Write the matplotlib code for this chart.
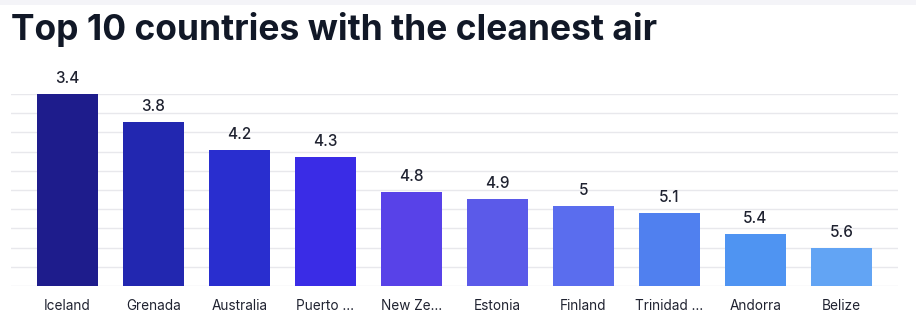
import numpy as np
import matplotlib.pyplot as plt
from matplotlib.patches import Rectangle

# Data
countries = ['Iceland', 'Grenada', 'Australia', 'Puerto ...', 'New Ze...',
             'Estonia', 'Finland', 'Trinidad ...', 'Andorra', 'Belize']
pm25 = [3.4, 3.8, 4.2, 4.3, 4.8, 4.9, 5.0, 5.1, 5.4, 5.6]
value_labels = ['3.4', '3.8', '4.2', '4.3', '4.8', '4.9', '5', '5.1', '5.4', '5.6']
bar_colors = ['#1e1c8c', '#2227b0', '#292ecf', '#3a2ce6', '#5842e8',
              '#5b5ae9', '#5a6dee', '#5080ef', '#4f94f2', '#62a4f4']

plt.rcParams['font.family'] = ['Inter', 'DejaVu Sans']

W, H = 916, 322
fig = plt.figure(figsize=(W / 100, H / 100), dpi=100)
fig.patch.set_facecolor('white')

# faint band across the very top
fig.patches.append(Rectangle((0, 1 - 5 / H), 1, 5 / H, transform=fig.transFigure,
                             facecolor='#f4f4f8', edgecolor='none', zorder=0))

fig.text(11 / W, 1 - 40 / H, 'Top 10 countries with the cleanest air',
         fontsize=25.5, fontweight='bold', color='#111827', ha='left', va='baseline')

ax = fig.add_axes([11 / W, (H - 286) / H, 887 / W, 192 / H])

# lower values = cleaner air = taller bar, so the axis runs downward
base = 6.143
top = min(pm25)
x = np.arange(len(countries))
ax.bar(x, [v - base for v in pm25], bottom=base, width=0.71,
       color=bar_colors, zorder=3)

for xi, v, lab in zip(x, pm25, value_labels):
    ax.annotate(lab, (xi, v), xytext=(0, 6), textcoords='offset points',
                ha='center', va='bottom', fontsize=11, fontweight='medium',
                color='#1f2230')

ax.set_ylim(base, top)
ax.set_xlim(-0.657, len(countries) - 1 + 0.657)

for gy in np.linspace(top, base, 11):
    ax.axhline(gy, color='#e8e8ec', linewidth=1, zorder=1)

ax.set_xticks(x)
ax.set_xticklabels(countries, fontsize=9.8, color='#1f2230')
ax.tick_params(axis='x', length=0, pad=9)
ax.set_yticks([])
for s in ax.spines.values():
    s.set_visible(False)

fig.savefig('out.png', dpi=100)
